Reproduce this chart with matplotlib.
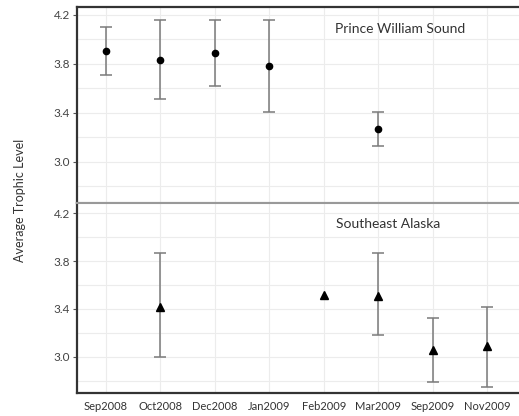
import matplotlib
matplotlib.use("Agg")
import matplotlib.pyplot as plt
from matplotlib.ticker import MultipleLocator

months = ["Sep2008", "Oct2008", "Dec2008", "Jan2009", "Feb2009", "Mar2009", "Sep2009", "Nov2009"]

# Prince William Sound
pws_months = ["Sep2008", "Oct2008", "Dec2008", "Jan2009", "Mar2009"]
pws_mean = [3.905, 3.83, 3.89, 3.785, 3.27]
pws_low = [3.71, 3.51, 3.62, 3.41, 3.13]
pws_high = [4.10, 4.16, 4.16, 4.155, 3.41]

# Southeast Alaska (Feb2009 has no interval)
sea_months = ["Oct2008", "Feb2009", "Mar2009", "Sep2009", "Nov2009"]
sea_mean = [3.42, 3.52, 3.51, 3.06, 3.09]
sea_low = [3.00, None, 3.18, 2.79, 2.75]
sea_high = [3.87, None, 3.87, 3.32, 3.42]

yticks = [3.0, 3.4, 3.8, 4.2]

plt.rcParams['font.family'] = ['Lato', 'DejaVu Sans']

fig = plt.figure(figsize=(5.19, 4.16), dpi=100)
W, H = 519, 416
left = 77 / W
ax1 = fig.add_axes([left, 1 - 203 / H, 1 - left, (203 - 7) / H])
ax2 = fig.add_axes([left, 1 - 392.7 / H, 1 - left, (392.7 - 203) / H])

idx = {m: i for i, m in enumerate(months)}

def draw(ax, mlist, mean, low, high, marker, ms):
    xs, ms_, lo, hi = [], [], [], []
    for m, v, l, h in zip(mlist, mean, low, high):
        if l is None:
            continue
        xs.append(idx[m]); ms_.append(v); lo.append(v - l); hi.append(h - v)
    ax.errorbar(xs, ms_, yerr=[lo, hi], fmt='none', ecolor='#7a7a7a', elinewidth=1.1,
                capsize=4, capthick=1.1, zorder=2)
    ax.plot([idx[m] for m in mlist], mean, linestyle='none', marker=marker, color='black',
            markersize=ms, zorder=3)

draw(ax1, pws_months, pws_mean, pws_low, pws_high, 'o', 4.5)
draw(ax2, sea_months, sea_mean, sea_low, sea_high, '^', 5.5)

for ax in (ax1, ax2):
    ax.set_xlim(-0.53, 7.58)
    ax.set_yticks(yticks)
    ax.set_yticklabels([f"{v:.1f}" for v in yticks])
    ax.yaxis.set_minor_locator(MultipleLocator(0.2))
    ax.set_xticks(range(len(months)))
    ax.grid(True, which='both', color='#ececec', linewidth=0.8)
    ax.set_axisbelow(True)
    ax.tick_params(axis='y', which='major', length=3, color='#555555', labelsize=8.5,
                   labelcolor='#444444', pad=2)
    ax.tick_params(axis='y', which='minor', length=0)
    ax.tick_params(axis='x', length=0, labelsize=8, labelcolor='#333333', pad=6)
    ax.spines['right'].set_visible(False)
    ax.spines['left'].set_color('#333333')
    ax.spines['left'].set_linewidth(1.6)

ax1.set_ylim(2.665, 4.265)
ax2.set_ylim(2.70, 4.285)

ax1.set_xticklabels([])
ax2.set_xticklabels(months)

ax1.spines['top'].set_color('#333333')
ax1.spines['top'].set_linewidth(1.6)
ax1.spines['bottom'].set_color('#999999')
ax1.spines['bottom'].set_linewidth(1.5)
ax2.spines['top'].set_color('#999999')
ax2.spines['top'].set_linewidth(1.5)
ax2.spines['bottom'].set_color('#333333')
ax2.spines['bottom'].set_linewidth(1.6)

ax1.text(0.73, 0.888, "Prince William Sound", transform=ax1.transAxes, ha='center', va='center',
         fontsize=10, color='#333333')
ax2.text(0.703, 0.889, "Southeast Alaska", transform=ax2.transAxes, ha='center', va='center',
         fontsize=10, color='#333333')

fig.text(20 / W, 1 - 200 / H, "Average Trophic Level", rotation=90, ha='center', va='center',
         fontsize=9, color='#333333')

fig.savefig("out.png", dpi=100)
